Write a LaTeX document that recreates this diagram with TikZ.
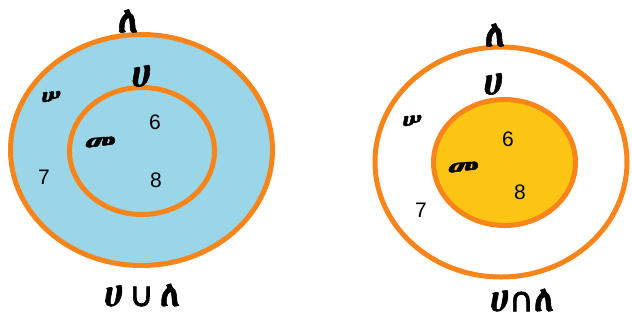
\documentclass[tikz,border=0pt]{standalone}
\usepackage{fontspec}
\setmainfont{Liberation Sans}
% Ethiopic family: first one that is available
\IfFontExistsTF{Abyssinica SIL}
  {\newfontfamily\ethfont{Abyssinica SIL}[FakeBold=1.5]}
  {\IfFontExistsTF{FreeSerif.otf}
    {\newfontfamily\ethfont{FreeSerif.otf}[FakeBold=1.5]}
    {\IfFontExistsTF{FreeSerif}
      {\newfontfamily\ethfont{FreeSerif}[FakeBold=1.5]}
      {\newfontfamily\ethfont{DejaVu Sans}}}}
\newfontfamily\opfont{DejaVu Sans}[FakeBold=2]
\definecolor{ringorange}{RGB}{248,132,26}
\definecolor{setblue}{RGB}{154,214,232}
\definecolor{setyellow}{RGB}{252,197,20}
\newcommand\opsym[1]{{\opfont\fontsize{34}{34}\selectfont #1}}
\begin{document}
\begin{tikzpicture}[x=1pt,y=-1pt,
  ring/.style={draw=ringorange,line width=5pt},
  numlabel/.style={inner sep=0pt,font=\fontsize{21}{21}\selectfont},
  ethbig/.style={inner sep=0pt,font=\ethfont\fontsize{37}{37}\selectfont},
  ethsmall/.style={inner sep=0pt,font=\ethfont\fontsize{26}{26}\selectfont},
  oplabel/.style={inner sep=0pt,text depth=0pt,font=\ethfont\fontsize{36}{36}\selectfont}]
\useasboundingbox (0,0) rectangle (632,325);
% union: everything inside the outer set shaded
\draw[ring,fill=setblue] (141.5,150) ellipse [x radius=131,y radius=115.5];
\draw[ring] (142,151) ellipse [x radius=72.5,y radius=63.5];
\node[ethbig] (L1) at (128,21) {ለ};
\node[ethbig] (H1) at (141,76) {ሀ};
\node[ethsmall] (S1) at (51,98) {ሠ};
\node[ethsmall,xscale=1.3] (M1) at (100,144) {መ};
\node[numlabel] (n61) at (155,122) {6};
\node[numlabel] (n81) at (156,180) {8};
\node[numlabel] (n71) at (44,177) {7};
\node[oplabel] (U1) at (142,295) {ሀ\,\opsym{∪}\,ለ};
% intersection: only the inner set shaded
\draw[ring] (501,162) ellipse [x radius=126,y radius=115];
\draw[ring,fill=setyellow] (504.5,162.5) ellipse [x radius=71,y radius=63];
\node[ethbig] (L2) at (495,35) {ለ};
\node[ethbig] (H2) at (493,84) {ሀ};
\node[ethsmall] (S2) at (412,122) {ሠ};
\node[ethsmall,xscale=1.3] (M2) at (463,169) {መ};
\node[numlabel] (n62) at (508,139) {6};
\node[numlabel] (n82) at (520,192) {8};
\node[numlabel] (n72) at (421,210) {7};
\node[oplabel] (I2) at (522,300) {ሀ\opsym{∩}ለ};
\end{tikzpicture}
\end{document}
